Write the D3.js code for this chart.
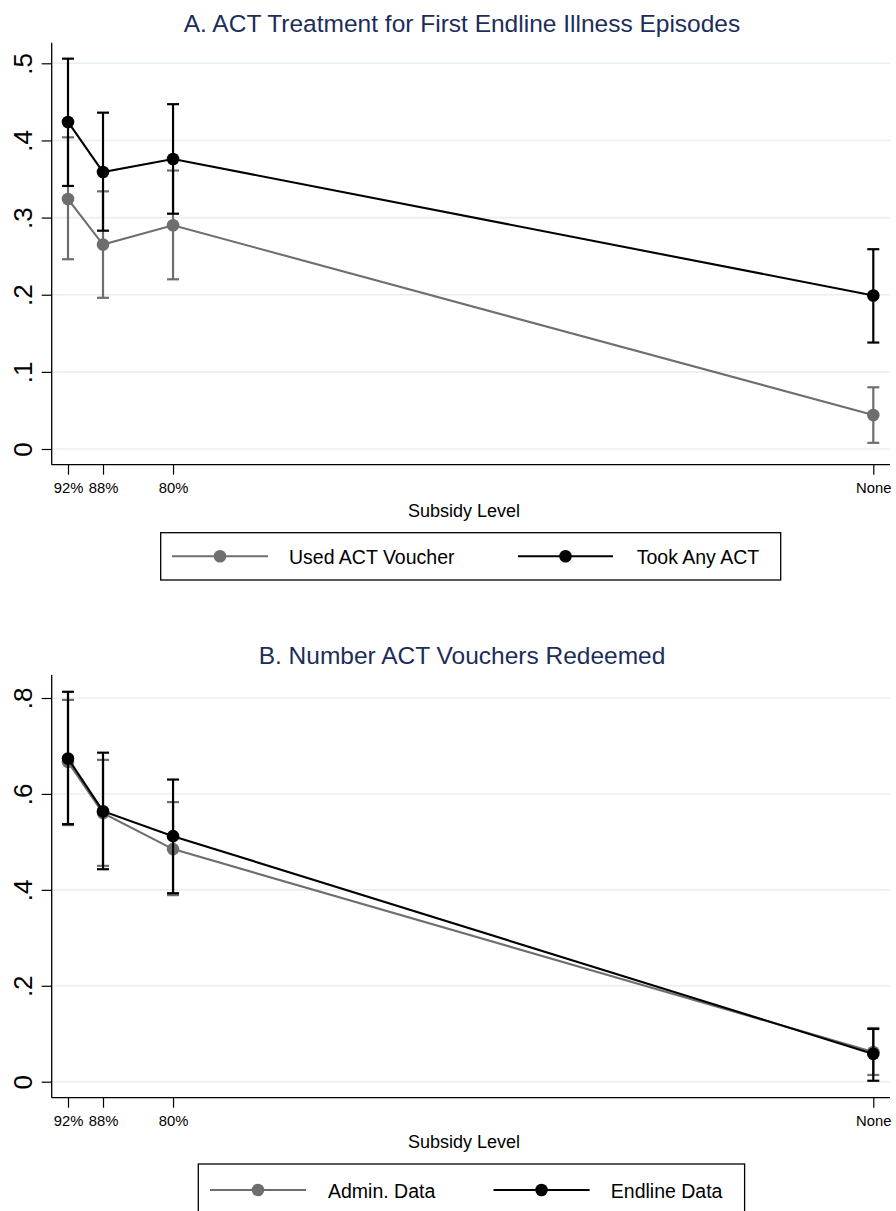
<!DOCTYPE html>
<html><head><meta charset="utf-8">
<script src="https://cdn.jsdelivr.net/npm/d3@7"></script>
<style>body{margin:0;background:#fff}svg{display:block;font-family:"Liberation Sans",Arial,Helvetica,sans-serif}</style>
</head><body>
<script>
// Data
const subsidyLevels = [92, 88, 80, 0];
const subsidyLabels = ["92%", "88%", "80%", "None"];

// Panel A
const usedVoucher    = [0.324, 0.265, 0.290, 0.044];
const usedVoucherLo  = [0.246, 0.196, 0.220, 0.008];
const usedVoucherHi  = [0.404, 0.334, 0.361, 0.080];
const tookAnyACT     = [0.424, 0.359, 0.376, 0.199];
const tookAnyACTLo   = [0.341, 0.283, 0.305, 0.138];
const tookAnyACTHi   = [0.506, 0.436, 0.447, 0.259];
const yTicksA = [0, 0.1, 0.2, 0.3, 0.4, 0.5];
const yTickLabelsA = ["0", ".1", ".2", ".3", ".4", ".5"];

// Panel B
const adminData     = [0.667, 0.560, 0.485, 0.062];
const adminDataLo   = [0.535, 0.450, 0.389, 0.014];
const adminDataHi   = [0.796, 0.671, 0.583, 0.112];
const endlineData   = [0.674, 0.564, 0.512, 0.058];
const endlineDataLo = [0.537, 0.443, 0.393, 0.002];
const endlineDataHi = [0.813, 0.686, 0.630, 0.110];
const yTicksB = [0, 0.2, 0.4, 0.6, 0.8];
const yTickLabelsB = ["0", ".2", ".4", ".6", ".8"];

const W = 896, H = 1211;
const GRAY = "#6e6e6e", BLACK = "#000", GRID = "#e8eff2", TITLE = "#1c2d5a";
const svg = d3.select("body").append("svg").attr("width", W).attr("height", H);

const x = d3.scaleLinear().domain([92, 0]).range([68, 873.3]);

function panel(opt) {
  const g = svg.append("g");
  const y = d3.scaleLinear().domain(opt.yDomain).range(opt.yRange);
  // gridlines
  g.selectAll(".grid").data(opt.yTicks).join("line")
    .attr("x1", 52).attr("x2", 890)
    .attr("y1", d => y(d)).attr("y2", d => y(d))
    .attr("stroke", GRID).attr("stroke-width", 1.6);
  // y axis
  const ya = g.append("g").attr("transform", "translate(51.7,0)")
    .call(d3.axisLeft(y).tickValues(opt.yTicks).tickSize(10).tickFormat((d, i) => opt.yLabels[i]));
  ya.select(".domain").remove();
  ya.selectAll("line").attr("stroke", "#000").attr("stroke-width", 1.2);
  ya.selectAll("text").attr("transform", "translate(-20,0) rotate(-90)")
    .attr("x", 0).attr("y", 0).attr("dy", "0").attr("text-anchor", "middle")
    .attr("font-size", 26).attr("fill", "#000");
  g.append("line").attr("x1", 51.7).attr("x2", 51.7).attr("y1", opt.axisTop).attr("y2", opt.axisBottom)
    .attr("stroke", "#000").attr("stroke-width", 1.3);
  // x axis
  const xa = g.append("g").attr("transform", `translate(0,${opt.axisBottom})`)
    .call(d3.axisBottom(x).tickValues(subsidyLevels).tickSize(10).tickFormat((d, i) => subsidyLabels[i]));
  xa.select(".domain").remove();
  xa.selectAll("line").attr("stroke", "#000").attr("stroke-width", 1.2);
  xa.selectAll("text").attr("font-size", 14.8).attr("fill", "#000").attr("dy", "0").attr("y", 28.5);
  g.append("line").attr("x1", 51.7).attr("x2", 890).attr("y1", opt.axisBottom).attr("y2", opt.axisBottom)
    .attr("stroke", "#000").attr("stroke-width", 1.3);

  // series
  opt.series.forEach(s => {
    const pts = subsidyLevels.map((lv, i) => ({x: lv, v: s.v[i], lo: s.lo[i], hi: s.hi[i]}));
    const sg = g.append("g");
    sg.selectAll(".eb").data(pts).join("line")
      .attr("x1", d => x(d.x)).attr("x2", d => x(d.x))
      .attr("y1", d => y(d.lo)).attr("y2", d => y(d.hi))
      .attr("stroke", s.color).attr("stroke-width", 2.2);
    ["hi", "lo"].forEach(k => {
      sg.selectAll(".cap" + k).data(pts).join("line")
        .attr("x1", d => x(d.x) - 6).attr("x2", d => x(d.x) + 6)
        .attr("y1", d => y(d[k])).attr("y2", d => y(d[k]))
        .attr("stroke", s.color).attr("stroke-width", 2.2);
    });
    sg.append("path").datum(pts)
      .attr("d", d3.line().x(d => x(d.x)).y(d => y(d.v)))
      .attr("fill", "none").attr("stroke", s.color).attr("stroke-width", 2.1);
    sg.selectAll("circle").data(pts).join("circle")
      .attr("cx", d => x(d.x)).attr("cy", d => y(d.v)).attr("r", 6.3)
      .attr("fill", s.color);
  });

  // title
  g.append("text").attr("x", 462).attr("y", opt.titleY).attr("text-anchor", "middle")
    .attr("font-size", 24.5).attr("fill", TITLE).text(opt.title);
  // x title
  g.append("text").attr("x", 464).attr("y", opt.xTitleY).attr("text-anchor", "middle")
    .attr("font-size", 18).attr("fill", "#000").text("Subsidy Level");
  // legend
  const L = opt.legend;
  g.append("rect").attr("x", L.x0).attr("y", L.y0).attr("width", L.x1 - L.x0).attr("height", L.h)
    .attr("fill", "#fff").attr("stroke", "#000").attr("stroke-width", 1.3);
  L.items.forEach(it => {
    g.append("line").attr("x1", it.lx0).attr("x2", it.lx1).attr("y1", L.cy).attr("y2", L.cy)
      .attr("stroke", it.color).attr("stroke-width", 2.1);
    g.append("circle").attr("cx", (it.lx0 + it.lx1) / 2).attr("cy", L.cy).attr("r", 6.3).attr("fill", it.color);
    g.append("text").attr("x", it.tx).attr("y", L.cy + 7.5).attr("font-size", 19.5).attr("fill", "#000").text(it.label);
  });
}

panel({
  yDomain: [0, 0.5], yRange: [449, 63.3], yTicks: yTicksA, yLabels: yTickLabelsA,
  axisTop: 42.7, axisBottom: 464.7,
  title: "A. ACT Treatment for First Endline Illness Episodes", titleY: 32.3,
  xTitleY: 516.5,
  series: [
    {v: usedVoucher, lo: usedVoucherLo, hi: usedVoucherHi, color: GRAY},
    {v: tookAnyACT, lo: tookAnyACTLo, hi: tookAnyACTHi, color: BLACK}
  ],
  legend: {x0: 160.7, x1: 780.7, y0: 532.7, h: 47.3, cy: 556.3, items: [
    {lx0: 172, lx1: 268, tx: 289, color: GRAY, label: "Used ACT Voucher"},
    {lx0: 518, lx1: 613, tx: 636.7, color: BLACK, label: "Took Any ACT"}
  ]}
});

panel({
  yDomain: [0, 0.8], yRange: [1081.7, 698], yTicks: yTicksB, yLabels: yTickLabelsB,
  axisTop: 675, axisBottom: 1097.7,
  title: "B. Number ACT Vouchers Redeemed", titleY: 664.3,
  xTitleY: 1148,
  series: [
    {v: adminData, lo: adminDataLo, hi: adminDataHi, color: GRAY},
    {v: endlineData, lo: endlineDataLo, hi: endlineDataHi, color: BLACK}
  ],
  legend: {x0: 198.3, x1: 744.6, y0: 1164, h: 49, cy: 1190, items: [
    {lx0: 210, lx1: 306, tx: 328, color: GRAY, label: "Admin. Data"},
    {lx0: 493.5, lx1: 589.6, tx: 610.8, color: BLACK, label: "Endline Data"}
  ]}
});
</script>
</body></html>
